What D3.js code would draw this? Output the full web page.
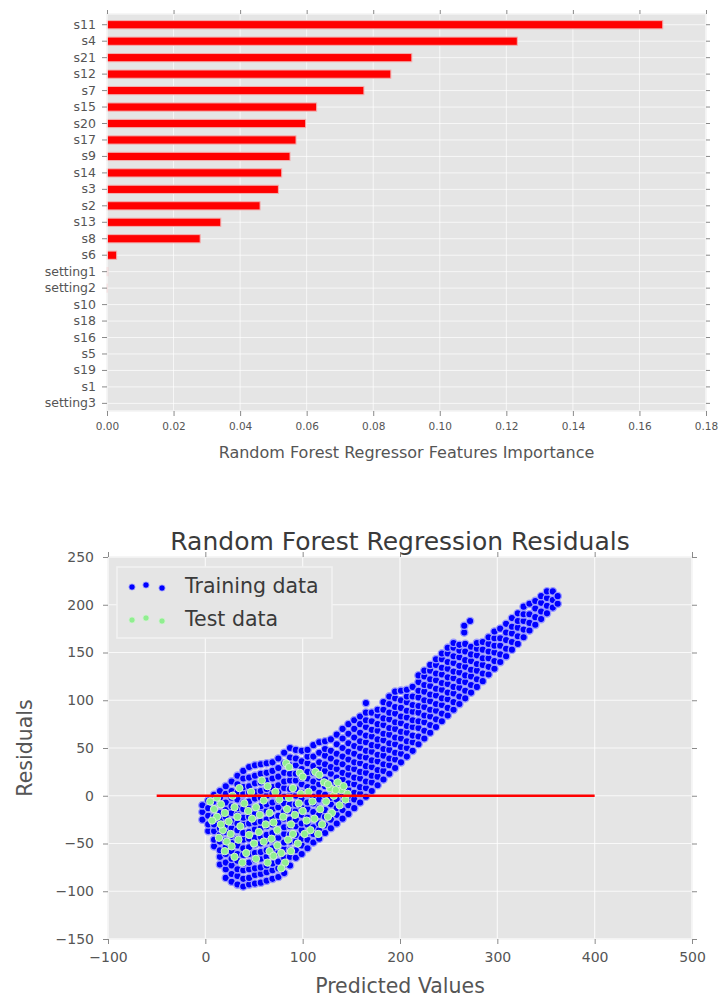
<!DOCTYPE html>
<html>
<head>
<meta charset="utf-8">
<script src="https://cdn.jsdelivr.net/npm/d3@7"></script>
<style>
  body { margin: 0; background: #fff; }
  svg { display: block; }
  text { font-family: "DejaVu Sans", sans-serif; }
</style>
</head>
<body>
<svg id="fig" width="719" height="999"></svg>
<script>
// ---------- feature importance data ----------
const features = ["s11", "s4", "s21", "s12", "s7", "s15", "s20", "s17", "s9", "s14", "s3", "s2",
  "s13", "s8", "s6", "setting1", "setting2", "s10", "s18", "s16", "s5", "s19", "s1", "setting3"];
const importances = [0.167, 0.1233, 0.0916, 0.0853, 0.0772, 0.0630, 0.0597, 0.0568, 0.0550, 0.0525,
  0.0515, 0.0460, 0.0342, 0.0280, 0.0029, 0.0002, 0.0001, 0, 0, 0, 0, 0, 0, 0];
const importanceTicks = [0, 0.02, 0.04, 0.06, 0.08, 0.10, 0.12, 0.14, 0.16, 0.18];

// ---------- residual plot data ----------
const predTicks = [-100, 0, 100, 200, 300, 400, 500];
const residTicks = [-150, -100, -50, 0, 50, 100, 150, 200, 250];
const zeroLinePred = [-50, 400];

// training residuals, grouped by predicted value: [predicted, [residuals...]]
const trainCols = [
  [-3, [-25, -17, -10]],
  [3, [-37, -30, -21, -13, -5]],
  [9, [-53, -46, -37, -30, -22, -15, -6, 1]],
  [15, [-72, -64, -57, -48, -41, -34, -25, -18, -9, -2, 5]],
  [21, [-86, -77, -70, -61, -54, -47, -38, -31, -22, -15, -7, 2, 10]],
  [27, [-90, -82, -73, -66, -58, -49, -42, -34, -27, -18, -11, -2, 5, 15]],
  [33, [-93, -84, -77, -68, -61, -52, -45, -36, -29, -20, -13, -4, 3, 12, 21]],
  [39, [-95, -87, -78, -71, -62, -55, -46, -39, -30, -23, -14, -7, 2, 9, 18, 26]],
  [45, [-93, -86, -77, -70, -61, -54, -45, -38, -29, -22, -13, -6, 3, 10, 19, 30]],
  [51, [-92, -83, -76, -67, -60, -51, -44, -35, -28, -19, -12, -3, 4, 13, 21, 32]],
  [57, [-91, -82, -75, -66, -59, -50, -43, -34, -27, -18, -11, -2, 5, 14, 23, 33]],
  [63, [-89, -80, -73, -64, -57, -48, -41, -32, -25, -16, -9, 0, 7, 16, 24, 34]],
  [69, [-87, -78, -71, -62, -55, -46, -39, -30, -23, -14, -7, 2, 9, 18, 26, 35]],
  [75, [-85, -76, -69, -60, -53, -44, -37, -28, -21, -12, -5, 4, 11, 20, 29, 39]],
  [81, [-81, -72, -65, -56, -49, -40, -33, -24, -17, -8, -1, 8, 15, 24, 34, 45]],
  [87, [-73, -64, -57, -48, -41, -32, -25, -16, -9, 0, 7, 16, 23, 32, 40, 50]],
  [93, [-65, -57, -48, -41, -32, -25, -16, -9, 0, 7, 16, 23, 32, 39, 48]],
  [99, [-61, -52, -45, -36, -29, -20, -13, -4, 3, 12, 19, 28, 36, 47]],
  [105, [-55, -46, -39, -30, -23, -14, -7, 2, 9, 18, 25, 34, 41, 48]],
  [111, [-49, -40, -33, -24, -17, -8, -1, 8, 15, 24, 31, 41, 53]],
  [117, [-45, -36, -29, -20, -13, -4, 3, 12, 19, 28, 35, 45, 56]],
  [123, [-39, -31, -22, -15, -6, 1, 10, 17, 26, 33, 42, 49, 57]],
  [129, [-34, -25, -18, -9, -2, 7, 14, 23, 30, 39, 47, 59]],
  [135, [-29, -20, -13, -4, 3, 12, 19, 28, 35, 44, 54, 64]],
  [141, [-24, -15, -8, 1, 8, 17, 24, 33, 41, 50, 60, 70]],
  [147, [-19, -10, -3, 6, 13, 22, 29, 38, 46, 55, 65, 75]],
  [153, [-13, -4, 3, 12, 19, 28, 35, 44, 52, 61, 70, 79]],
  [159, [-7, 2, 9, 18, 25, 34, 41, 50, 57, 66, 75, 83]],
  [165, [-1, 8, 15, 24, 31, 40, 47, 56, 63, 72, 79, 87, 97]],
  [171, [5, 14, 21, 30, 37, 46, 53, 62, 69, 78, 87]],
  [177, [11, 20, 27, 36, 43, 52, 59, 68, 75, 84, 90]],
  [183, [17, 26, 33, 42, 49, 58, 65, 74, 81, 90, 98]],
  [189, [23, 32, 39, 48, 55, 64, 71, 80, 87, 96, 104]],
  [195, [29, 38, 45, 54, 61, 70, 77, 86, 93, 102, 109]],
  [201, [35, 44, 51, 60, 67, 76, 83, 92, 100, 110]],
  [207, [41, 50, 57, 66, 73, 82, 89, 98, 104, 111]],
  [213, [47, 56, 63, 72, 79, 88, 95, 104, 114]],
  [219, [54, 62, 71, 78, 87, 94, 103, 110, 119, 126]],
  [225, [60, 68, 77, 84, 93, 100, 109, 116, 125, 131]],
  [231, [66, 74, 83, 90, 99, 106, 115, 122, 131, 137]],
  [237, [72, 80, 89, 96, 105, 112, 121, 128, 137, 143]],
  [243, [78, 86, 95, 102, 111, 118, 127, 134, 143, 149]],
  [249, [84, 92, 101, 108, 117, 124, 133, 140, 149, 155]],
  [255, [90, 98, 107, 114, 123, 130, 139, 146, 155, 160]],
  [261, [96, 104, 113, 120, 129, 136, 145, 152, 158]],
  [266, [171, 178]],
  [267, [102, 110, 119, 126, 135, 142, 151, 159]],
  [272, [183]],
  [273, [108, 116, 125, 132, 141, 148, 156]],
  [279, [114, 122, 131, 138, 147, 154, 160]],
  [285, [120, 128, 137, 144, 153, 161]],
  [291, [127, 135, 144, 151, 159, 166]],
  [297, [133, 141, 150, 157, 165, 172]],
  [303, [140, 148, 157, 165, 175]],
  [309, [146, 154, 163, 171, 180]],
  [315, [153, 161, 170, 177, 186]],
  [321, [159, 167, 176, 183, 191]],
  [327, [166, 174, 183, 190, 198]],
  [333, [173, 181, 190, 201]],
  [339, [179, 187, 196, 204]],
  [345, [185, 193, 202, 209]],
  [351, [191, 199, 207, 214]],
  [357, [197, 205, 214]],
  [362, [201, 209]]
];

// test residuals: [predicted, residual]
const testPoints = [
  [5, -6], [9, -14], [12, -22], [7, -26], [16, -9], [20, -18], [24, -27], [18, -36], [14, -44],
  [22, -48], [27, -53], [26, -40], [30, -12], [33, -22], [36, -32], [40, -8], [44, -16], [48, -24],
  [52, -12], [56, -20], [60, -5], [45, -41], [50, -50], [42, -60], [38, -70], [55, -38], [62, -30],
  [66, -58], [70, -63], [68, -45], [74, -52], [78, -60], [82, -70], [85, -46], [80, -22], [84, -14],
  [88, -30], [92, -20], [96, -8], [100, -16], [104, -26], [108, -36], [112, -24], [116, -40],
  [120, -30], [118, -14], [124, -6], [128, 8], [132, 0], [136, 14], [140, 6], [144, -4], [138, -10],
  [130, -18], [126, -22], [110, -6], [106, 4], [98, 2], [90, 8], [86, -2], [76, -4], [72, 4],
  [64, 10], [58, 16], [83, 34], [86, 30], [97, 24], [100, 20], [113, 25], [117, 22], [122, 14],
  [126, 12], [134, 6], [142, 10], [146, 2], [95, -50], [88, -58], [90, -40], [102, -40], [74, -36],
  [34, -46], [30, -64], [20, -58], [64, -70], [47, 4], [35, 8], [28, 0], [12, -2], [16, -30],
  [66, -18], [70, -28], [60, -48], [52, -66], [78, -76]
];

const legendItems = [
  { label: "Training data", color: "#0000ff", edge: "#9c9cff" },
  { label: "Test data", color: "#90ee90", edge: "#d4f2d4" }
];

// ---------- shared style ----------
const BG = "#e5e5e5";
const GRID = "#ffffff";
const TICK = "#8a8a8a";
const LABEL = "#555555";
const MARKER_R = 3.7;

const svg = d3.select("#fig");

function styleAxis(g, fontSize) {
  g.select(".domain").remove();
  g.selectAll(".tick line").attr("stroke", TICK).attr("stroke-width", 1);
  g.selectAll(".tick text")
    .attr("fill", LABEL)
    .style("font-size", fontSize + "px")
    .style("font-family", "DejaVu Sans, sans-serif");
}

// =====================================================
// Horizontal bar chart of feature importances
// =====================================================
(function drawImportance() {
  const left = 107, right = 706, top = 14, bottom = 411;

  const x = d3.scaleLinear().domain([0, 0.18]).range([left, right]);
  const y = d3.scaleBand().domain(features).range([16.5, 411.6]).padding(0);
  const barH = y.bandwidth() * 0.5;

  const g = svg.append("g");

  g.append("rect")
    .attr("x", left).attr("y", top)
    .attr("width", right - left).attr("height", bottom - top)
    .attr("fill", BG);

  // grid
  g.append("g").selectAll("line").data(importanceTicks).join("line")
    .attr("x1", d => x(d)).attr("x2", d => x(d))
    .attr("y1", top).attr("y2", bottom)
    .attr("stroke", GRID).attr("stroke-opacity", 0.7).attr("stroke-width", 1);
  g.append("g").selectAll("line").data(features).join("line")
    .attr("x1", left).attr("x2", right)
    .attr("y1", d => y(d) + y.bandwidth() / 2).attr("y2", d => y(d) + y.bandwidth() / 2)
    .attr("stroke", GRID).attr("stroke-opacity", 0.7).attr("stroke-width", 1);

  // bars
  g.append("g").selectAll("rect").data(features).join("rect")
    .attr("x", x(0))
    .attr("y", d => y(d) + (y.bandwidth() - barH) / 2)
    .attr("width", (d, i) => x(importances[i]) - x(0))
    .attr("height", barH)
    .attr("fill", "#ff0000")
    .attr("stroke", (d, i) => importances[i] > 0 ? "#f2b0b0" : "none")
    .attr("stroke-width", 1);

  g.append("rect")
    .attr("x", left).attr("y", top)
    .attr("width", right - left).attr("height", bottom - top)
    .attr("fill", "none").attr("stroke", "#f4f4f4").attr("stroke-width", 1.5);

  const fmt = d3.format(".2f");
  g.append("g").attr("transform", `translate(0,${bottom})`)
    .call(d3.axisBottom(x).tickValues(importanceTicks).tickFormat(fmt).tickSize(5).tickPadding(7).tickSizeOuter(0))
    .call(a => styleAxis(a, 10.5));
  g.append("g").attr("transform", `translate(0,${top})`)
    .call(d3.axisTop(x).tickValues(importanceTicks).tickFormat("").tickSize(4).tickSizeOuter(0))
    .call(a => styleAxis(a, 10.5));
  g.append("g").attr("transform", `translate(${left},0)`)
    .call(d3.axisLeft(y).tickSize(5).tickPadding(6).tickSizeOuter(0))
    .call(a => styleAxis(a, 12.5));
  g.append("g").attr("transform", `translate(${right},0)`)
    .call(d3.axisRight(y).tickFormat("").tickSize(4).tickSizeOuter(0))
    .call(a => styleAxis(a, 12.5));

  g.append("text")
    .attr("x", (left + right) / 2).attr("y", 452)
    .attr("text-anchor", "middle").attr("dominant-baseline", "central")
    .attr("fill", LABEL).style("font-size", "16px")
    .text("Random Forest Regressor Features Importance");
})();

// =====================================================
// Residual scatter plot
// =====================================================
(function drawResiduals() {
  const left = 108, right = 692, top = 557, bottom = 939;

  const x = d3.scaleLinear().domain([-100, 500]).range([left, right]);
  const y = d3.scaleLinear().domain([-150, 250]).range([bottom, top]);

  const g = svg.append("g");

  g.append("rect")
    .attr("x", left).attr("y", top)
    .attr("width", right - left).attr("height", bottom - top)
    .attr("fill", BG);

  g.append("g").selectAll("line").data(predTicks).join("line")
    .attr("x1", d => x(d)).attr("x2", d => x(d))
    .attr("y1", top).attr("y2", bottom)
    .attr("stroke", GRID).attr("stroke-opacity", 0.75).attr("stroke-width", 1.2);
  g.append("g").selectAll("line").data(residTicks).join("line")
    .attr("x1", left).attr("x2", right)
    .attr("y1", d => y(d)).attr("y2", d => y(d))
    .attr("stroke", GRID).attr("stroke-opacity", 0.75).attr("stroke-width", 1.2);

  const trainPoints = trainCols.flatMap(([p, rs]) => rs.map(r => [p, r]));

  g.append("g").selectAll("circle").data(trainPoints).join("circle")
    .attr("cx", d => x(d[0])).attr("cy", d => y(d[1]))
    .attr("r", MARKER_R)
    .attr("fill", legendItems[0].color)
    .attr("stroke", legendItems[0].edge).attr("stroke-width", 1.3);

  g.append("g").selectAll("circle").data(testPoints).join("circle")
    .attr("cx", d => x(d[0])).attr("cy", d => y(d[1]))
    .attr("r", MARKER_R)
    .attr("fill", legendItems[1].color)
    .attr("stroke", legendItems[1].edge).attr("stroke-width", 1);

  // zero residual reference line
  g.append("line")
    .attr("x1", x(zeroLinePred[0])).attr("x2", x(zeroLinePred[1]))
    .attr("y1", y(0)).attr("y2", y(0))
    .attr("stroke", "#ff0000").attr("stroke-width", 2.6);

  g.append("rect")
    .attr("x", left).attr("y", top)
    .attr("width", right - left).attr("height", bottom - top)
    .attr("fill", "none").attr("stroke", "#f4f4f4").attr("stroke-width", 1.5);

  const fmt = d => d3.format("d")(d).replace("-", "\u2212");
  g.append("g").attr("transform", `translate(0,${bottom})`)
    .call(d3.axisBottom(x).tickValues(predTicks).tickFormat(fmt).tickSize(5).tickPadding(8).tickSizeOuter(0))
    .call(a => styleAxis(a, 14));
  g.append("g").attr("transform", `translate(0,${top})`)
    .call(d3.axisTop(x).tickValues(predTicks).tickFormat("").tickSize(5).tickSizeOuter(0))
    .call(a => styleAxis(a, 14));
  g.append("g").attr("transform", `translate(${left},0)`)
    .call(d3.axisLeft(y).tickValues(residTicks).tickFormat(fmt).tickSize(5).tickPadding(9).tickSizeOuter(0))
    .call(a => styleAxis(a, 14));
  g.append("g").attr("transform", `translate(${right},0)`)
    .call(d3.axisRight(y).tickValues(residTicks).tickFormat("").tickSize(5).tickSizeOuter(0))
    .call(a => styleAxis(a, 14));

  // title and axis labels
  g.append("text")
    .attr("x", (left + right) / 2).attr("y", 541)
    .attr("text-anchor", "middle").attr("dominant-baseline", "central")
    .attr("fill", "#3a3a3a").style("font-size", "25px")
    .text("Random Forest Regression Residuals");
  g.append("text")
    .attr("x", (left + right) / 2).attr("y", 986)
    .attr("text-anchor", "middle").attr("dominant-baseline", "central")
    .attr("fill", LABEL).style("font-size", "20.5px")
    .text("Predicted Values");
  g.append("text")
    .attr("transform", `translate(25,${(top + bottom) / 2}) rotate(-90)`)
    .attr("text-anchor", "middle").attr("dominant-baseline", "central")
    .attr("fill", LABEL).style("font-size", "20.5px")
    .text("Residuals");

  // legend
  const lg = g.append("g");
  lg.append("rect")
    .attr("x", 117).attr("y", 567).attr("width", 215).attr("height", 71)
    .attr("fill", "#e5e5e5").attr("stroke", "#f2f2f2").attr("stroke-width", 1.5);
  const markerDx = [132, 146, 162];
  const markerDy = [1, -1, 2];
  legendItems.forEach((item, i) => {
    const cy = 586 + i * 33;
    lg.append("g").selectAll("circle").data(markerDx).join("circle")
      .attr("cx", d => d).attr("cy", (d, j) => cy + markerDy[j])
      .attr("r", 3.1).attr("fill", item.color)
      .attr("stroke", item.edge).attr("stroke-width", 0.8);
    lg.append("text")
      .attr("x", 185).attr("y", cy)
      .attr("dominant-baseline", "central")
      .attr("fill", "#3a3a3a").style("font-size", "20.5px")
      .text(item.label);
  });
})();
</script>
</body>
</html>
